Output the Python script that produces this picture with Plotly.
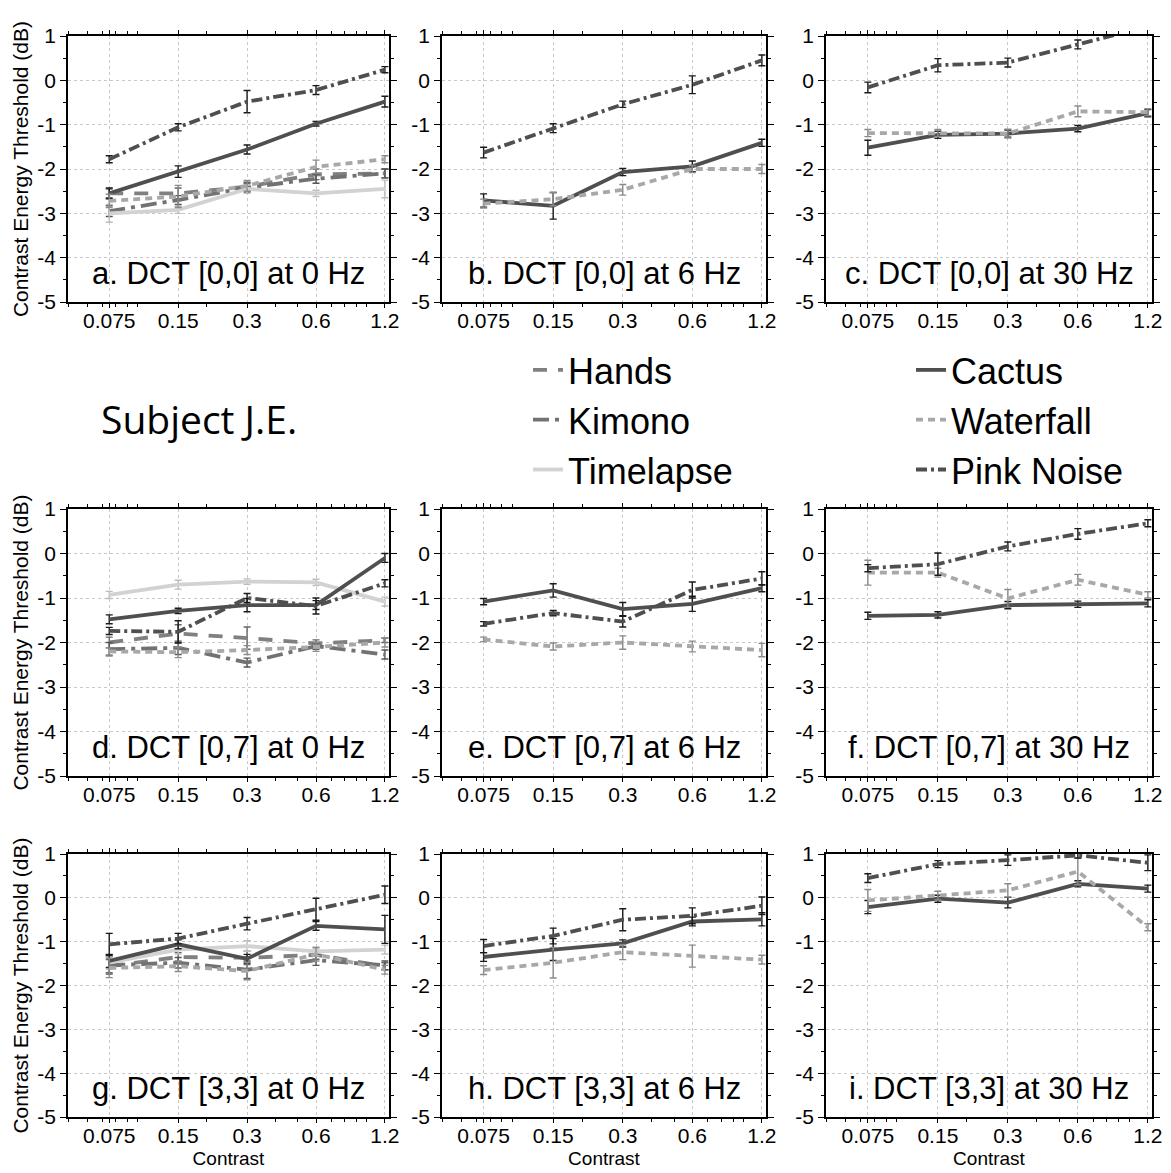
import plotly.graph_objects as go

# ---------------- data ----------------
contrast = [0.075, 0.15, 0.3, 0.6, 1.2]
contrast_labels = ["0.075", "0.15", "0.3", "0.6", "1.2"]
y_ticks = [-5, -4, -3, -2, -1, 0, 1]
y_tick_labels = ["-5", "-4", "-3", "-2", "-1", "0", "1"]

panel_titles = [
    "a. DCT [0,0] at 0 Hz", "b. DCT [0,0] at 6 Hz", "c. DCT [0,0] at 30 Hz",
    "d. DCT [0,7] at 0 Hz", "e. DCT [0,7] at 6 Hz", "f. DCT [0,7] at 30 Hz",
    "g. DCT [3,3] at 0 Hz", "h. DCT [3,3] at 6 Hz", "i. DCT [3,3] at 30 Hz",
]

# thresholds (dB) per panel and series
a_vals = {
    "Hands":      [-2.55, -2.55, -2.40, -2.12, -2.10],
    "Kimono":     [-2.95, -2.70, -2.42, -2.22, -2.10],
    "Timelapse":  [-3.00, -2.92, -2.45, -2.55, -2.45],
    "Cactus":     [-2.55, -2.06, -1.56, -0.98, -0.48],
    "Waterfall":  [-2.72, -2.62, -2.38, -1.95, -1.78],
    "Pink Noise": [-1.78, -1.06, -0.48, -0.22, 0.24],
}
a_errs = {
    "Hands":      [0.10, 0.12, 0.10, 0.12, 0.10],
    "Kimono":     [0.12, 0.10, 0.10, 0.10, 0.10],
    "Timelapse":  [0.20, 0.08, 0.10, 0.07, 0.20],
    "Cactus":     [0.12, 0.13, 0.10, 0.05, 0.12],
    "Waterfall":  [0.15, 0.25, 0.12, 0.15, 0.08],
    "Pink Noise": [0.08, 0.08, 0.25, 0.10, 0.07],
}
b_vals = {
    "Cactus":     [-2.71, -2.83, -2.07, -1.94, -1.41],
    "Waterfall":  [-2.78, -2.68, -2.47, -2.00, -2.00],
    "Pink Noise": [-1.63, -1.08, -0.54, -0.10, 0.45],
}
b_errs = {
    "Cactus":     [0.15, 0.30, 0.08, 0.12, 0.08],
    "Waterfall":  [0.10, 0.15, 0.12, 0.08, 0.10],
    "Pink Noise": [0.12, 0.10, 0.07, 0.20, 0.12],
}
c_vals = {
    "Cactus":     [-1.52, -1.23, -1.20, -1.09, -0.74],
    "Waterfall":  [-1.19, -1.19, -1.20, -0.70, -0.72],
    "Pink Noise": [-0.16, 0.34, 0.40, 0.81, 1.22],
}
c_errs = {
    "Cactus":     [0.17, 0.08, 0.08, 0.07, 0.08],
    "Waterfall":  [0.08, 0.08, 0.10, 0.12, 0.08],
    "Pink Noise": [0.12, 0.15, 0.10, 0.10, 0.10],
}
d_vals = {
    "Hands":      [-2.00, -1.80, -1.90, -2.02, -1.95],
    "Kimono":     [-2.15, -2.12, -2.45, -2.08, -2.27],
    "Timelapse":  [-0.93, -0.70, -0.63, -0.65, -1.08],
    "Cactus":     [-1.48, -1.29, -1.16, -1.16, -0.10],
    "Waterfall":  [-2.20, -2.22, -2.17, -2.10, -2.00],
    "Pink Noise": [-1.74, -1.76, -1.00, -1.18, -0.67],
}
d_errs = {
    "Hands":      [0.12, 0.20, 0.25, 0.08, 0.05],
    "Kimono":     [0.15, 0.15, 0.10, 0.07, 0.10],
    "Timelapse":  [0.08, 0.10, 0.06, 0.07, 0.10],
    "Cactus":     [0.10, 0.06, 0.15, 0.10, 0.10],
    "Waterfall":  [0.08, 0.12, 0.10, 0.10, 0.10],
    "Pink Noise": [0.08, 0.25, 0.10, 0.18, 0.08],
}
e_vals = {
    "Cactus":     [-1.08, -0.83, -1.25, -1.13, -0.78],
    "Waterfall":  [-1.93, -2.09, -2.00, -2.09, -2.17],
    "Pink Noise": [-1.58, -1.34, -1.53, -0.82, -0.56],
}
e_errs = {
    "Cactus":     [0.07, 0.15, 0.15, 0.17, 0.08],
    "Waterfall":  [0.05, 0.08, 0.15, 0.12, 0.15],
    "Pink Noise": [0.05, 0.06, 0.12, 0.18, 0.15],
}
f_vals = {
    "Cactus":     [-1.40, -1.38, -1.16, -1.14, -1.12],
    "Waterfall":  [-0.43, -0.43, -1.01, -0.59, -0.93],
    "Pink Noise": [-0.33, -0.24, 0.16, 0.44, 0.68],
}
f_errs = {
    "Cactus":     [0.08, 0.07, 0.08, 0.07, 0.08],
    "Waterfall":  [0.28, 0.10, 0.20, 0.12, 0.07],
    "Pink Noise": [0.08, 0.25, 0.10, 0.12, 0.08],
}
g_vals = {
    "Hands":      [-1.56, -1.35, -1.37, -1.30, -1.56],
    "Kimono":     [-1.54, -1.48, -1.64, -1.42, -1.54],
    "Timelapse":  [-1.48, -1.18, -1.10, -1.22, -1.18],
    "Cactus":     [-1.44, -1.06, -1.39, -0.64, -0.72],
    "Waterfall":  [-1.60, -1.56, -1.67, -1.29, -1.64],
    "Pink Noise": [-1.06, -0.93, -0.59, -0.26, 0.07],
}
g_errs = {
    "Hands":      [0.15, 0.10, 0.15, 0.10, 0.08],
    "Kimono":     [0.20, 0.12, 0.20, 0.12, 0.10],
    "Timelapse":  [0.15, 0.10, 0.12, 0.10, 0.10],
    "Cactus":     [0.15, 0.10, 0.10, 0.10, 0.32],
    "Waterfall":  [0.22, 0.12, 0.20, 0.15, 0.10],
    "Pink Noise": [0.25, 0.12, 0.14, 0.25, 0.20],
}
h_vals = {
    "Cactus":     [-1.35, -1.18, -1.04, -0.54, -0.49],
    "Waterfall":  [-1.65, -1.48, -1.24, -1.33, -1.41],
    "Pink Noise": [-1.10, -0.87, -0.50, -0.41, -0.18],
}
h_errs = {
    "Cactus":     [0.10, 0.25, 0.08, 0.10, 0.15],
    "Waterfall":  [0.10, 0.35, 0.17, 0.25, 0.10],
    "Pink Noise": [0.15, 0.18, 0.25, 0.18, 0.20],
}
i_vals = {
    "Cactus":     [-0.21, -0.02, -0.11, 0.32, 0.21],
    "Waterfall":  [-0.06, 0.05, 0.17, 0.60, -0.67],
    "Pink Noise": [0.45, 0.77, 0.86, 0.97, 0.80],
}
i_errs = {
    "Cactus":     [0.15, 0.08, 0.12, 0.07, 0.08],
    "Waterfall":  [0.25, 0.10, 0.15, 0.30, 0.08],
    "Pink Noise": [0.10, 0.08, 0.12, 0.06, 0.18],
}

panels = [(a_vals, a_errs), (b_vals, b_errs), (c_vals, c_errs),
          (d_vals, d_errs), (e_vals, e_errs), (f_vals, f_errs),
          (g_vals, g_errs), (h_vals, h_errs), (i_vals, i_errs)]

# ---------------- styles ----------------
FONT = "Liberation Sans, Arial, Helvetica, sans-serif"
styles = {
    "Hands":      dict(color="#808080", dash="14px,11px", err="#666666", legend="legend"),
    "Kimono":     dict(color="#727272", dash="16px,6px,4px,6px", err="#555555", legend="legend"),
    "Timelapse":  dict(color="#d2d2d2", dash="solid", err="#bdbdbd", legend="legend"),
    "Cactus":     dict(color="#4f4f4f", dash="solid", err="#1a1a1a", legend="legend2"),
    "Waterfall":  dict(color="#a8a8a8", dash="7px,5px", err="#8a8a8a", legend="legend2"),
    "Pink Noise": dict(color="#4f4f4f", dash="11px,4px,3px,4px", err="#1a1a1a", legend="legend2"),
}

W, H = 1171, 1173
col_px = [(68, 389), (442, 766), (826, 1152)]
row_px = [(36, 302), (509, 776), (854, 1117)]

fig = go.Figure()
shown = set()
for k, (vals, errs) in enumerate(panels):
    ax = "" if k == 0 else str(k + 1)
    for name, yv in vals.items():
        st = styles[name]
        show = name not in shown
        shown.add(name)
        fig.add_trace(go.Scatter(
            x=contrast, y=yv, name=name, mode="lines",
            line=dict(color=st["color"], width=3.8, dash=st["dash"]),
            error_y=dict(type="data", array=errs[name], visible=True,
                         color=st["err"], thickness=1.4, width=3.5),
            xaxis="x" + ax, yaxis="y" + ax,
            showlegend=show, legend=st["legend"],
        ))

layout = dict(
    width=W, height=H, margin=dict(l=0, r=0, t=0, b=0, autoexpand=False),
    paper_bgcolor="white", plot_bgcolor="white",
    font=dict(family=FONT, color="black", size=21),
    showlegend=True,
)
annotations = []
for k in range(9):
    r, c = divmod(k, 3)
    ax = "" if k == 0 else str(k + 1)
    x0, x1 = col_px[c]
    y0, y1 = row_px[r]
    layout["xaxis" + ax] = dict(
        domain=[x0 / W, x1 / W], anchor="y" + ax, type="log", automargin=False,
        range=[-1.305, 0.097], tickmode="array", tickvals=contrast,
        ticktext=contrast_labels, tickfont=dict(size=21),
        ticks="outside", ticklen=4, tickcolor="black", mirror="allticks",
        ticklabelstandoff=-5,
        showline=True, linecolor="black", linewidth=1.5,
        showgrid=True, gridcolor="#c8c8c8", griddash="dot", gridwidth=1,
        minor=dict(ticks="outside", ticklen=3, tickcolor="black", dtick="D1", showgrid=False),
        zeroline=False,
        title=dict(text="Contrast" if r == 2 else "", font=dict(size=19), standoff=6),
    )
    layout["yaxis" + ax] = dict(
        domain=[1 - y1 / H, 1 - y0 / H], anchor="x" + ax, automargin=False,
        range=[-5, 1], tickmode="array", tickvals=y_ticks, ticktext=y_tick_labels,
        tickfont=dict(size=21),
        ticks="outside", ticklen=6, tickcolor="black", mirror="allticks",
        showline=True, linecolor="black", linewidth=1.5,
        showgrid=True, gridcolor="#c8c8c8", griddash="dot", gridwidth=1,
        minor=dict(ticks="outside", ticklen=3, tickcolor="black", dtick=0.5, showgrid=False),
        zeroline=False,
        title=dict(text="Contrast Energy Threshold (dB)" if c == 0 else "",
                   font=dict(size=21), standoff=3),
    )
    annotations.append(dict(
        text=panel_titles[k], xref="x" + ax + " domain", yref="y" + ax + " domain",
        x=0.5, y=0.035, xanchor="center", yanchor="bottom", showarrow=False,
        font=dict(size=31, family=FONT, color="black"),
    ))

annotations.append(dict(
    text="Subject J.E.", xref="paper", yref="paper",
    x=199 / W, y=1 - 418 / H, xanchor="center", yanchor="middle", showarrow=False,
    font=dict(size=39, family="Open Sans, Noto Sans, sans-serif", color="black"),
))
layout["annotations"] = annotations

legend_common = dict(
    xanchor="left", yanchor="top", bgcolor="rgba(0,0,0,0)",
    font=dict(size=36, family=FONT, color="black"), tracegroupgap=0,
    itemwidth=30, orientation="v", borderwidth=0,
)
layout["legend"] = dict(x=528 / W, y=1 - 340 / H, **legend_common)
layout["legend2"] = dict(x=911 / W, y=1 - 340 / H, **legend_common)

fig.update_layout(**layout)
fig.write_html("out.html")
